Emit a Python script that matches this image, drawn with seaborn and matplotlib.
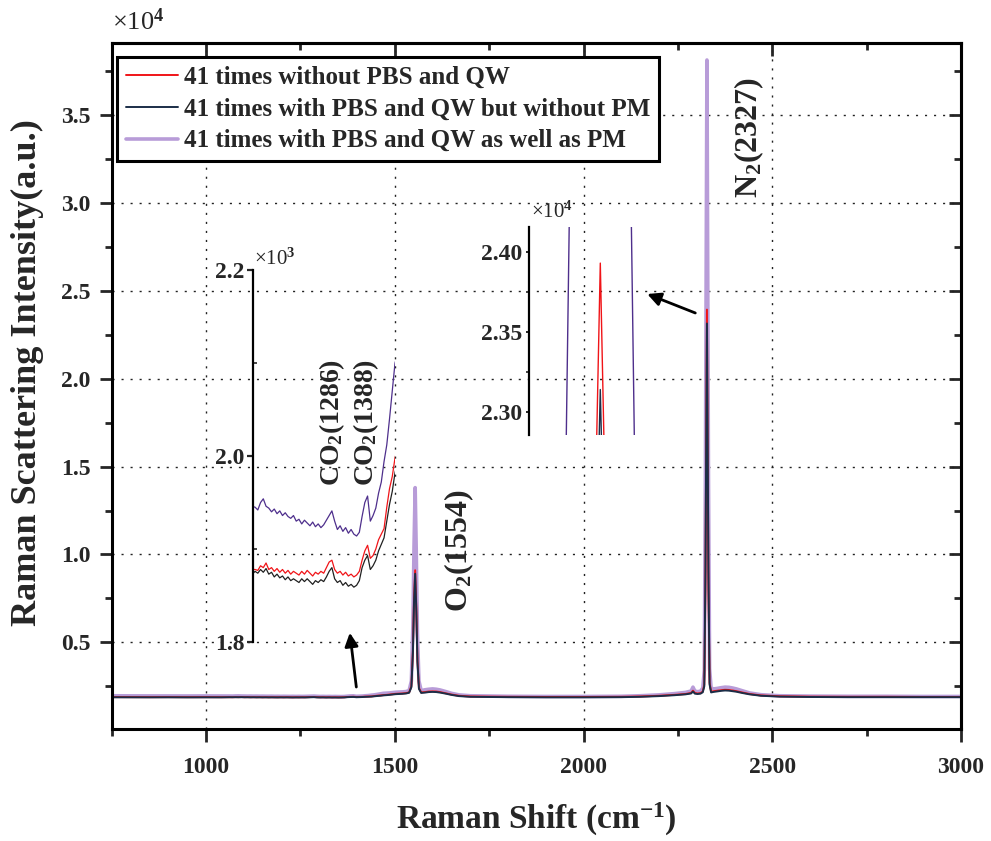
import numpy as np
import pandas as pd
import seaborn as sns
import matplotlib.pyplot as plt
from matplotlib.ticker import MultipleLocator, FixedLocator, FuncFormatter

# ---- data (Raman shift in cm-1, intensity in counts) ----
shift_low = [750, 800, 850, 900, 950, 1000, 1040]
red_low = [1885, 1882, 1880, 1883, 1879, 1881, 1878]
navy_low = [1872, 1870, 1868, 1871, 1867, 1869, 1868]
purple_low = [1960, 1955, 1952, 1950, 1948, 1950, 1947]

# CO2 region (shown in the left inset)
shift_co2 = [1062, 1070, 1078, 1086, 1094, 1102, 1110, 1118, 1126, 1134,
             1142, 1150, 1158, 1166, 1174, 1182, 1190, 1198, 1206, 1214,
             1222, 1230, 1238, 1246, 1254, 1262, 1270, 1278, 1286, 1294,
             1302, 1310, 1318, 1326, 1334, 1342, 1350, 1358, 1366, 1374,
             1382, 1390, 1398, 1406, 1414, 1422, 1430, 1438, 1446, 1454,
             1462, 1470]
red_co2 = [1878, 1877, 1882, 1880, 1885, 1878, 1880, 1876, 1879, 1875,
           1878, 1874, 1877, 1873, 1876, 1874, 1872, 1876, 1873, 1877,
           1874, 1871, 1875, 1873, 1876, 1874, 1880, 1886, 1888, 1878,
           1874, 1876, 1872, 1875, 1871, 1873, 1870, 1872, 1876, 1888,
           1898, 1904, 1890, 1893, 1900, 1910, 1916, 1922, 1945, 1965,
           1978, 1998]
navy_co2 = [1876, 1874, 1878, 1875, 1879, 1873, 1875, 1870, 1873, 1869,
            1871, 1867, 1870, 1866, 1868, 1866, 1864, 1868, 1865, 1868,
            1865, 1862, 1866, 1864, 1867, 1865, 1870, 1876, 1880, 1868,
            1864, 1866, 1861, 1864, 1860, 1862, 1859, 1861, 1866, 1880,
            1888, 1893, 1878, 1882, 1888, 1898, 1905, 1912, 1930, 1948,
            1962, 1982]
purple_co2 = [1945, 1942, 1950, 1954, 1946, 1944, 1940, 1943, 1938, 1941,
              1936, 1939, 1935, 1933, 1936, 1930, 1932, 1927, 1931, 1928,
              1925, 1929, 1924, 1927, 1923, 1926, 1931, 1936, 1941, 1930,
              1921, 1925, 1919, 1923, 1917, 1921, 1916, 1914, 1918, 1935,
              1950, 1957, 1930, 1936, 1944, 1960, 1972, 1994, 2012, 2040,
              2070, 2100]

# O2 and N2 region
shift_high = [1478, 1486, 1494, 1502, 1510, 1520, 1530, 1538, 1544, 1548,
              1551, 1554, 1557, 1560, 1564, 1570, 1580, 1590, 1600, 1610,
              1620, 1635, 1650, 1670, 1700, 1800, 1900, 2000, 2100, 2150,
              2200, 2240, 2270, 2285, 2290, 2295, 2302, 2310, 2316, 2320,
              2323, 2327, 2331, 2334, 2338, 2345, 2355, 2365, 2375, 2385,
              2395, 2405, 2420, 2440, 2470, 2520, 2600, 2700, 2800, 2900,
              3000]
red_high = [2010, 2030, 2050, 2070, 2080, 2090, 2110, 2150, 2500, 4500,
            7500, 9100, 7000, 4000, 2400, 2150, 2170, 2200, 2210, 2200,
            2170, 2100, 2030, 1960, 1920, 1900, 1890, 1890, 1900, 1920,
            1960, 2010, 2060, 2120, 2250, 2120, 2090, 2110, 2200, 2600,
            8000, 23930, 8000, 2700, 2200, 2220, 2250, 2280, 2300, 2290,
            2260, 2220, 2150, 2060, 1980, 1930, 1910, 1900, 1900, 1890,
            1890]
navy_high = [1995, 2010, 2030, 2050, 2060, 2070, 2090, 2130, 2450, 4400,
             7300, 8900, 6800, 3900, 2350, 2120, 2140, 2170, 2180, 2170,
             2140, 2080, 2010, 1940, 1900, 1880, 1870, 1870, 1880, 1900,
             1940, 1990, 2040, 2090, 2200, 2080, 2060, 2080, 2160, 2500,
             9000, 23140, 9000, 2600, 2150, 2180, 2210, 2240, 2260, 2250,
             2220, 2190, 2120, 2040, 1960, 1910, 1890, 1880, 1880, 1880,
             1880]
purple_high = [2110, 2120, 2140, 2160, 2170, 2180, 2200, 2260, 2800, 6000,
               10500, 13800, 10000, 5500, 2800, 2250, 2300, 2330, 2350, 2330,
               2290, 2200, 2100, 2010, 1960, 1930, 1920, 1920, 1930, 1960,
               2010, 2080, 2150, 2230, 2450, 2230, 2190, 2220, 2400, 3400,
               14500, 38130, 14500, 3500, 2400, 2350, 2380, 2420, 2450, 2440,
               2400, 2350, 2250, 2120, 2020, 1960, 1940, 1930, 1930, 1920,
               1920]

labels = ['41 times without PBS and QW',
          '41 times with PBS and QW but without PM',
          '41 times with PBS and QW as well as PM']

shift = shift_low + shift_co2 + shift_high
df = pd.DataFrame({
    'shift': shift * 3,
    'intensity': (red_low + red_co2 + red_high
                  + navy_low + navy_co2 + navy_high
                  + purple_low + purple_co2 + purple_high),
    'series': np.repeat(labels, len(shift)),
})

sns.set_style('ticks')
plt.rcParams['font.family'] = ['Liberation Serif', 'DejaVu Serif']
plt.rcParams['font.weight'] = 'bold'
plt.rcParams['mathtext.fontset'] = 'custom'
plt.rcParams['mathtext.rm'] = 'Liberation Serif:bold'
plt.rcParams['mathtext.bf'] = 'Liberation Serif:bold'
plt.rcParams['mathtext.it'] = 'Liberation Serif:italic:bold'

red_c = '#f01418'
navy_c = '#1b2e48'
lav_c = '#b89cd8'
violet_c = '#4e2f8c'

fig = plt.figure(figsize=(9.91, 8.41), dpi=100)
ax = fig.add_axes([0.1127, 0.1332, 0.857, 0.8153])

styles = {labels[2]: (lav_c, 2.6), labels[0]: (red_c, 1.4), labels[1]: (navy_c, 1.4)}
handles = {}
for lab in [labels[2], labels[0], labels[1]]:
    c, lw = styles[lab]
    sub = df[df['series'] == lab]
    sns.lineplot(data=sub, x='shift', y='intensity', color=c, lw=lw,
                 estimator=None, label=lab, ax=ax)
    handles[lab] = ax.get_lines()[-1]

ax.set_xlim(750, 3000)
ax.set_ylim(70, 39080)
ax.xaxis.set_major_locator(MultipleLocator(500))
ax.xaxis.set_minor_locator(MultipleLocator(250))
ax.yaxis.set_major_locator(MultipleLocator(5000))
ax.yaxis.set_minor_locator(MultipleLocator(2500))
ax.yaxis.set_major_formatter(FuncFormatter(lambda v, p: f'{v/1e4:.1f}'))
ax.grid(True, which='major', color='#222222', lw=1.0, linestyle=(0, (1.5, 5)))
ax.set_axisbelow(True)
for s in ax.spines.values():
    s.set_linewidth(2.2)
    s.set_color('black')
ax.tick_params(which='major', direction='out', length=9, width=2, labelsize=17)
ax.tick_params(axis='x', which='major', pad=11)
ax.tick_params(axis='y', which='major', pad=6)
ax.tick_params(which='minor', direction='out', length=5, width=2)

secx = ax.secondary_xaxis('top')
secx.xaxis.set_major_locator(MultipleLocator(500))
secx.xaxis.set_minor_locator(MultipleLocator(250))
secx.tick_params(which='major', direction='in', length=9, width=2, labeltop=False)
secx.tick_params(which='minor', direction='in', length=5, width=2)
secx.spines['top'].set_linewidth(2.2)
secy = ax.secondary_yaxis('right')
secy.yaxis.set_major_locator(MultipleLocator(5000))
secy.yaxis.set_minor_locator(MultipleLocator(2500))
secy.tick_params(which='major', direction='in', length=9, width=2, labelright=False)
secy.tick_params(which='minor', direction='in', length=5, width=2)
secy.spines['right'].set_linewidth(2.2)

ax.set_xlabel('Raman Shift (cm$^{-1}$)', fontsize=24, fontweight='bold')
ax.set_ylabel('Raman Scattering Intensity(a.u.)', fontsize=26, fontweight='bold')
ax.xaxis.set_label_coords(0.5, -0.105)
ax.yaxis.set_label_coords(-0.08, 0.52)
ax.text(0.0, 1.012, '×10$^4$', transform=ax.transAxes, fontsize=19,
        fontweight='normal', ha='left', va='bottom')

leg = ax.legend(handles=[handles[l] for l in labels], labels=labels,
                loc='upper left', bbox_to_anchor=(0.006, 0.98), borderaxespad=0,
                fontsize=18, frameon=True, fancybox=False, framealpha=1,
                edgecolor='black', handlelength=2.1, handletextpad=0.25,
                labelspacing=0.35, borderpad=0.35)
leg.get_frame().set_linewidth(2.2)

# peak labels
ax.text(1333, 17500, 'CO$_2$(1286)', rotation=90, ha='center', va='center', fontsize=20)
ax.text(1425, 17500, 'CO$_2$(1388)', rotation=90, ha='center', va='center', fontsize=20)
ax.text(1672, 10200, 'O$_2$(1554)', rotation=90, ha='center', va='center', fontsize=23)
ax.text(2440, 33700, 'N$_2$(2327)', rotation=90, ha='center', va='center', fontsize=23)

arrow = dict(arrowstyle='-|>', color='black', lw=2, mutation_scale=20)
ax.annotate('', xy=(1380, 5700), xytext=(1399, 2300), arrowprops=arrow)
ax.annotate('', xy=(2162, 24875), xytext=(2303, 23680), arrowprops=arrow)

# ---- inset 1: CO2 region ----
ins1 = fig.add_axes([0.2553, 0.2366, 0.1433, 0.4423])
ins1.patch.set_alpha(0)
for lab, c in [(labels[2], violet_c), (labels[0], red_c), (labels[1], '#202020')]:
    sub = df[df['series'] == lab]
    sns.lineplot(data=sub, x='shift', y='intensity', color=c, lw=0.9,
                 estimator=None, ax=ins1, legend=False)
ins1.set_xlim(1056, 1470)
ins1.set_ylim(1800, 2200)
ins1.yaxis.set_major_locator(FixedLocator([1800, 2000, 2200]))
ins1.yaxis.set_minor_locator(FixedLocator([1900, 2100]))
ins1.yaxis.set_major_formatter(FuncFormatter(lambda v, p: f'{v/1000:.1f}'))
for side in ['top', 'right', 'bottom']:
    ins1.spines[side].set_visible(False)
ins1.spines['left'].set_linewidth(1.6)
ins1.spines['left'].set_color('black')
ins1.set_xticks([])
ins1.set_xlabel('')
ins1.set_ylabel('')
ins1.tick_params(axis='y', which='major', direction='out', length=4, width=1.6,
                 labelsize=17, pad=2)
ins1.tick_params(axis='y', which='minor', direction='in', length=3, width=1.2)
ins1.text(0.01, 1.0, '×10$^3$', transform=ins1.transAxes, fontsize=15,
          fontweight='normal', ha='left', va='bottom')

# ---- inset 2: N2 peak top ----
ins2 = fig.add_axes([0.5341, 0.4828, 0.1433, 0.247])
ins2.patch.set_alpha(0)
for lab, c in [(labels[2], violet_c), (labels[0], red_c), (labels[1], navy_c)]:
    sub = df[df['series'] == lab]
    sns.lineplot(data=sub, x='shift', y='intensity', color=c, lw=1.0,
                 estimator=None, ax=ins2, legend=False)
ins2.set_xlim(2321.6, 2332.4)
ins2.set_ylim(22856, 24154)
ins2.yaxis.set_major_locator(FixedLocator([23000, 23500, 24000]))
ins2.yaxis.set_minor_locator(FixedLocator([22750, 23250, 23750]))
ins2.yaxis.set_major_formatter(FuncFormatter(lambda v, p: f'{v/1e4:.2f}'))
for side in ['top', 'right', 'bottom']:
    ins2.spines[side].set_visible(False)
ins2.spines['left'].set_linewidth(1.6)
ins2.spines['left'].set_color('black')
ins2.set_xticks([])
ins2.set_xlabel('')
ins2.set_ylabel('')
ins2.tick_params(axis='y', which='major', direction='out', length=2, width=1.4,
                 labelsize=17, pad=3)
ins2.tick_params(axis='y', which='minor', direction='out', length=2, width=1.2)
ins2.text(0.01, 1.02, '×10$^4$', transform=ins2.transAxes, fontsize=15,
          fontweight='normal', ha='left', va='bottom')

fig.savefig('out.png', dpi=100)
